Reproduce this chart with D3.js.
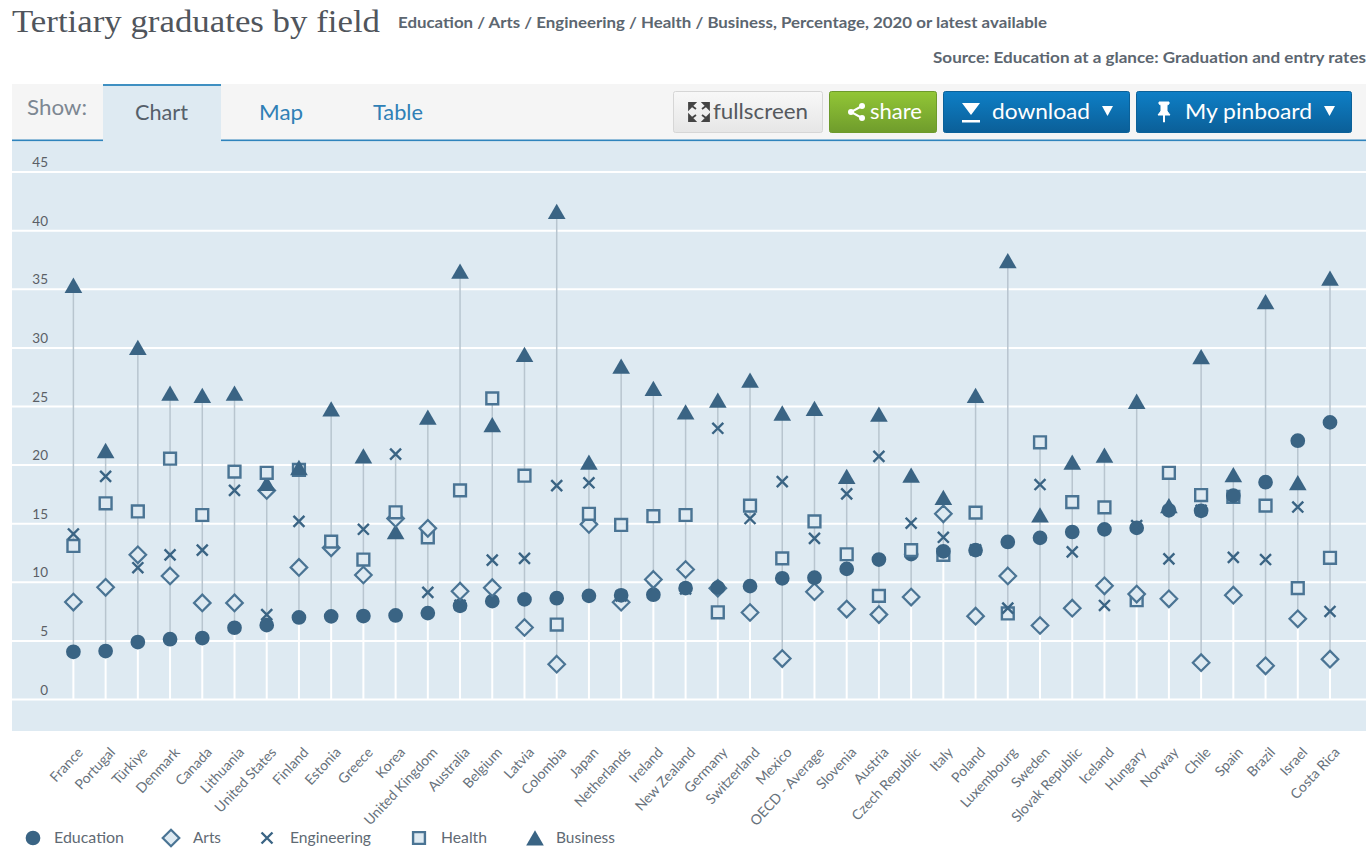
<!DOCTYPE html>
<html><head><meta charset="utf-8">
<script src="https://cdn.jsdelivr.net/npm/d3@7"></script>
<style>html,body{margin:0;padding:0;background:#fff;overflow:hidden}svg{display:block}</style>
</head><body><svg id="c" width="1370" height="850"></svg>
<script>
const categories=["France","Portugal","Türkiye","Denmark","Canada","Lithuania","United States","Finland","Estonia","Greece","Korea","United Kingdom","Australia","Belgium","Latvia","Colombia","Japan","Netherlands","Ireland","New Zealand","Germany","Switzerland","Mexico","OECD - Average","Slovenia","Austria","Czech Republic","Italy","Poland","Luxembourg","Sweden","Slovak Republic","Iceland","Hungary","Norway","Chile","Spain","Brazil","Israel","Costa Rica"];
const education=[4.03,4.09,4.86,5.1,5.2,6.08,6.3,6.96,7.05,7.08,7.13,7.33,7.95,8.35,8.5,8.6,8.8,8.85,8.9,9.46,9.5,9.63,10.3,10.35,11.1,11.9,12.36,12.6,12.7,13.4,13.75,14.25,14.47,14.6,16.1,16.06,17.35,18.5,22.04,23.6];
const arts=[8.27,9.53,12.3,10.5,8.2,8.2,17.8,11.23,12.9,10.58,15.4,14.56,9.2,9.5,6.1,2.97,14.9,8.26,10.2,11.05,9.45,7.38,3.45,9.15,7.67,7.2,8.7,15.8,7.07,10.5,6.27,7.75,9.66,8.95,8.55,3.1,8.86,2.83,6.84,3.4];
const engineering=[14.08,19.0,11.2,12.3,12.7,17.8,7.2,15.16,13.4,14.48,20.9,9.1,8.0,11.85,12.0,18.2,18.45,8.8,9.5,9.4,23.1,15.4,18.55,13.7,17.5,20.7,15.0,13.8,12.72,7.75,18.3,12.55,7.98,14.8,11.95,16.1,12.08,11.9,16.38,7.47];
const health=[13.06,16.7,16.0,20.5,15.7,19.4,19.3,19.55,13.43,11.9,15.93,13.8,17.8,25.65,19.05,6.35,15.8,14.85,15.6,15.7,7.4,16.5,12.0,15.15,12.35,8.8,12.7,12.3,15.9,7.3,21.9,16.8,16.35,8.43,19.3,17.4,17.25,16.5,9.46,12.05];
const business=[35.3,21.2,30.0,26.1,25.9,26.1,18.4,19.75,24.75,20.74,14.28,24.05,36.5,23.4,29.4,41.6,20.2,28.4,26.5,24.5,25.5,27.2,24.4,24.8,19.0,24.3,19.1,17.2,25.9,37.4,15.7,20.2,20.8,25.4,16.5,29.2,19.14,33.9,18.45,35.9];
const seriesNames=["Education","Arts","Engineering","Health","Business"];
const seriesValues=[education,arts,engineering,health,business];
const yTicks=[0,5,10,15,20,25,30,35,40,45];

const FONT="Lato, 'Noto Sans', sans-serif";
const ink="#3a6484", panel="#deeaf2";
const svg=d3.select("#c");
const defs=svg.append("defs");
function grad(id,a,b){const g=defs.append("linearGradient").attr("id",id).attr("x1",0).attr("x2",0).attr("y1",0).attr("y2",1);
  g.append("stop").attr("offset",0).attr("stop-color",a);g.append("stop").attr("offset",1).attr("stop-color",b);}
grad("gb","#0e7fc6","#0b5f98");grad("gg","#92c636","#6f9c2c");grad("gw","#f8f8f8","#e6e6e6");

function label(x,y,s,o={}){
  const t=svg.append("text").attr("x",x).attr("y",y).text(s)
    .attr("font-family",o.family||FONT).attr("font-size",o.size||15).attr("fill",o.fill||"#555")
    .attr("font-weight",o.weight||400).attr("text-anchor",o.anchor||"start");
  if(o.len)t.attr("textLength",o.len).attr("lengthAdjust","spacingAndGlyphs");
  return t;
}
// header
label(12,32,"Tertiary graduates by field",{family:"'Liberation Serif',serif",size:31,fill:"#50555c",len:368});
label(398,28,"Education / Arts / Engineering / Health / Business, Percentage, 2020 or latest available",{size:16,weight:700,fill:"#5c6670",len:649});
label(933,63,"Source: Education at a glance: Graduation and entry rates",{size:16,weight:700,fill:"#5c6670",len:433});

// tab bar
svg.append("rect").attr("x",12).attr("y",84).attr("width",1354).attr("height",56).attr("fill","#f5f5f5");
svg.append("rect").attr("x",12).attr("y",140).attr("width",1354).attr("height",591).attr("fill",panel);
svg.append("rect").attr("x",12).attr("y",139.5).attr("width",1354).attr("height",1.6).attr("fill","#2f84bd");
svg.append("rect").attr("x",103).attr("y",84).attr("width",118).attr("height",58).attr("fill",panel);
svg.append("rect").attr("x",103).attr("y",84).attr("width",118).attr("height",2).attr("fill","#3f90c2");
label(27,115,"Show:",{size:21,fill:"#7d8792",len:60});
label(135,120,"Chart",{size:22,fill:"#56606a",len:53});
label(259,120,"Map",{size:22,fill:"#2f80b6",len:44});
label(373,120,"Table",{size:22,fill:"#2f80b6",len:50});

function btn(x,w,fill,stroke){svg.append("rect").attr("x",x+.5).attr("y",91.5).attr("width",w-1).attr("height",41).attr("rx",2).attr("fill",fill).attr("stroke",stroke);}
btn(673,150,"url(#gw)","#d6d6d6");btn(829,108,"url(#gg)","#6d9a2c");btn(943,187,"url(#gb)","#0b6199");btn(1136,216,"url(#gb)","#0b6199");
// fullscreen arrows
svg.append("g").attr("transform","translate(699,112)").selectAll("path").data([[-1,-1],[1,-1],[-1,1],[1,1]]).join("path")
  .attr("d",d=>`M${d[0]*10},${d[1]*9}h${-d[0]*6}l${d[0]*6},${-d[1]*6}zM${d[0]*7},${d[1]*6}L${d[0]*3},${d[1]*3}`)
  .attr("fill","#444").attr("stroke","#444").attr("stroke-width",1.8);
label(713,119,"fullscreen",{size:22,fill:"#55595e",len:95});
// share
svg.append("g").attr("transform","translate(856,112)").call(g=>{
  g.append("path").attr("d","M6,-6L-5,0L6,6").attr("fill","none").attr("stroke","#fff").attr("stroke-width",2);
  [[6,-6],[-5,0],[6,6]].forEach(p=>g.append("circle").attr("cx",p[0]).attr("cy",p[1]).attr("r",3).attr("fill","#fff"));
});
label(870,119,"share",{size:22,fill:"#fff",len:52});
// download
svg.append("path").attr("d","M962,103h18l-9,12zM962,120h18v2.5h-18z").attr("fill","#fff");
label(992,119,"download",{size:22,fill:"#fff",len:98});
svg.append("path").attr("d","M1102,106h11l-5.5,10z").attr("fill","#fff");
// pin
svg.append("path").attr("d","M1159,102h10v2l-2,1v6l3,4h-5.5v7h-1v-7h-5.5l3,-4v-6l-2,-1z").attr("fill","#fff").attr("stroke","#fff").attr("stroke-width",1);
label(1185,119,"My pinboard",{size:22,fill:"#fff",len:127});
svg.append("path").attr("d","M1324,106h11l-5.5,10z").attr("fill","#fff");

// scales
const x=d3.scalePoint().domain(categories).range([73.4,1330]);
const y=d3.scaleLinear().domain([0,45]).range([699,171.6]);

// y axis with white gridlines
const yAxis=svg.append("g").attr("transform","translate(1366,0)")
  .call(d3.axisLeft(y).tickValues(yTicks).tickSize(1354).tickPadding(0).tickFormat(d3.format("d")));
yAxis.select(".domain").remove();
yAxis.selectAll(".tick line").attr("stroke","#fff").attr("stroke-width",2);
yAxis.selectAll(".tick text").attr("x",-1318).attr("dy",0).attr("y",-5).attr("text-anchor","end")
  .attr("font-family",FONT).attr("font-size",13.5).attr("fill","#5a5f66");

// x axis with rotated labels
const xAxis=svg.append("g").attr("transform","translate(0,731)")
  .call(d3.axisBottom(x).tickSize(0).tickPadding(0));
xAxis.select(".domain").remove();
xAxis.selectAll(".tick text").attr("text-anchor","end").attr("y",0).attr("dy",0)
  .attr("transform","translate(10,22) rotate(-47)")
  .attr("font-family",FONT).attr("font-size",14).attr("fill","#68727c");

// droplines and ranges
const rows=categories.map((c,i)=>({c,vals:seriesValues.map(s=>s[i])}));
const g=svg.append("g");
g.selectAll("line.drop").data(rows).join("line").attr("class","drop")
  .attr("x1",d=>x(d.c)).attr("x2",d=>x(d.c)).attr("y1",y(0)).attr("y2",d=>y(d3.min(d.vals)))
  .attr("stroke","#fff").attr("stroke-width",2);
g.selectAll("line.range").data(rows).join("line").attr("class","range")
  .attr("x1",d=>x(d.c)).attr("x2",d=>x(d.c)).attr("y1",d=>y(d3.min(d.vals))).attr("y2",d=>y(d3.max(d.vals)))
  .attr("stroke","#b8c5cf").attr("stroke-width",1.5);

// markers
const shapes=[
 {type:d3.symbolCircle,size:170,fill:ink,stroke:"none",sw:0,dy:0},
 {type:d3.symbolDiamond2,size:175,fill:panel,stroke:"#4a7494",sw:2.2,dy:0},
 {type:d3.symbolTimes,size:80,fill:"none",stroke:ink,sw:2.4,dy:0},
 {type:d3.symbolSquare,size:140,fill:panel,stroke:"#4a7494",sw:2.4,dy:0},
 {type:d3.symbolTriangle,size:135,fill:ink,stroke:"none",sw:0,dy:2.5}
];
function mark(sel,k,px,py){const s=shapes[k];
  sel.append("path").attr("d",d3.symbol(s.type,s.size)()).attr("transform",`translate(${px},${py+s.dy})`)
    .attr("fill",s.fill).attr("stroke",s.stroke).attr("stroke-width",s.sw);}
// within each country the highest value sits on top
const mg=svg.append("g");
rows.forEach(r=>{
  d3.range(5).sort((a,b)=>r.vals[a]-r.vals[b]).forEach(k=>mark(mg,k,x(r.c),y(r.vals[k])));
});

// legend
const lx=[33,171,267,419,535],tx=[54,193,290,441,556],tl=[70,28,81,46,59];
seriesNames.forEach((n,k)=>{
  mark(svg,k,lx[k],838);
  label(tx[k],843,n,{size:16,fill:"#5f6a74",len:tl[k]});
});
</script></body></html>
